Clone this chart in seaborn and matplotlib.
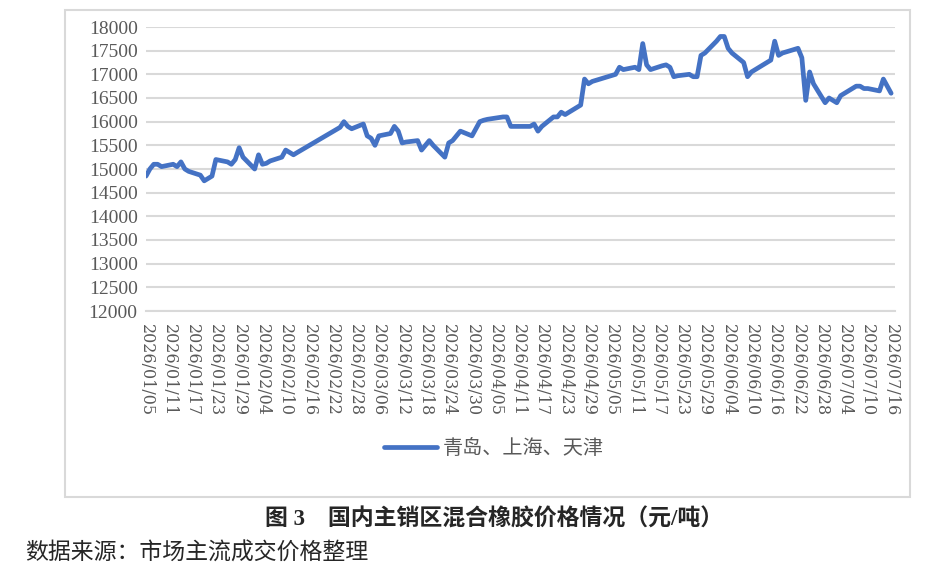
import matplotlib
matplotlib.use("Agg")
import matplotlib.pyplot as plt
from matplotlib.patches import Rectangle
import pandas as pd
import seaborn as sns

# 青岛、上海、天津 混合橡胶价格 (元/吨)
dates = [
    "01/05", "01/06", "01/07", "01/08", "01/09", "01/12", "01/13", "01/14", "01/15", "01/16",
    "01/19", "01/20", "01/21", "01/22", "01/23", "01/26", "01/27", "01/28", "01/29", "01/30",
    "02/02", "02/03", "02/04", "02/05", "02/06", "02/09", "02/10", "02/11", "02/12", "02/13",
    "02/24", "02/25", "02/26", "02/27", "03/02", "03/03", "03/04", "03/05", "03/06", "03/09",
    "03/10", "03/11", "03/12", "03/13", "03/16", "03/17", "03/18", "03/19", "03/20", "03/23",
    "03/24", "03/25", "03/26", "03/27", "03/30", "03/31", "04/01", "04/02", "04/03", "04/07",
    "04/08", "04/09", "04/10", "04/13", "04/14", "04/15", "04/16", "04/17", "04/20", "04/21",
    "04/22", "04/23", "04/24", "04/27", "04/28", "04/29", "04/30", "05/06", "05/07", "05/08",
    "05/11", "05/12", "05/13", "05/14", "05/15", "05/18", "05/19", "05/20", "05/21", "05/22",
    "05/25", "05/26", "05/27", "05/28", "05/29", "06/01", "06/02", "06/03", "06/04", "06/05",
    "06/08", "06/09", "06/10", "06/11", "06/12", "06/15", "06/16", "06/17", "06/18", "06/22",
    "06/23", "06/24", "06/25", "06/26", "06/29", "06/30", "07/01", "07/02", "07/03", "07/06",
    "07/07", "07/08", "07/09", "07/10", "07/13", "07/14", "07/16",
]
prices = [
    14850, 15000, 15100, 15100, 15050, 15100, 15050, 15150, 15000, 14950,
    14870, 14750, 14800, 14850, 15200, 15150, 15100, 15200, 15450, 15250,
    15000, 15300, 15100, 15120, 15170, 15250, 15400, 15350, 15300, 15350,
    15880, 16000, 15900, 15850, 15950, 15700, 15650, 15500, 15700, 15750,
    15900, 15800, 15550, 15570, 15600, 15400, 15500, 15600, 15500, 15250,
    15550, 15600, 15700, 15800, 15700, 15850, 16000, 16030, 16050, 16100,
    16100, 15900, 15900, 15900, 15900, 15950, 15800, 15900, 16100, 16100,
    16200, 16150, 16200, 16350, 16900, 16800, 16850, 17000, 17150, 17100,
    17150, 17100, 17650, 17200, 17100, 17180, 17200, 17150, 16950, 16970,
    17000, 16950, 16950, 17400, 17450, 17700, 17800, 17800, 17550, 17450,
    17250, 16950, 17050, 17100, 17150, 17300, 17700, 17400, 17450, 17550,
    17350, 16450, 17050, 16800, 16400, 16500, 16450, 16400, 16550, 16700,
    16750, 16750, 16700, 16700, 16650, 16900, 16600,
]
series_name = "青岛、上海、天津"
y_ticks = list(range(12000, 18001, 500))

df = pd.DataFrame({
    "date": pd.to_datetime(["2026/" + d for d in dates], format="%Y/%m/%d"),
    "price": prices,
    "series": series_name,
})

sns.set_theme(style="white")
plt.rcParams['font.family'] = ['Liberation Serif', 'Noto Sans CJK SC', 'DejaVu Sans']

fig = plt.figure(figsize=(9.36, 5.74), dpi=100)
ax = fig.add_axes([146 / 936, 1 - 311 / 574, (895 - 146) / 936, (311 - 27) / 574])

sns.lineplot(data=df, x="date", y="price", hue="series", palette=["#4472C4"],
             linewidth=3.4, ax=ax, legend=False)

start = pd.Timestamp("2026-01-05")
ax.set_xlim(start, pd.Timestamp("2026-07-17"))
ax.set_ylim(12000, 18000)
ax.set_yticks(y_ticks)
ax.yaxis.grid(True, color="#d9d9d9", linewidth=1.5)
ax.xaxis.grid(False)

xt = pd.date_range(start, pd.Timestamp("2026-07-16"), freq="6D")
ax.set_xticks(xt)
ax.set_xticklabels([d.strftime("%Y/%m/%d") for d in xt], rotation=-90,
                   fontsize=11.5, color="#595959", family="DejaVu Serif")
ax.tick_params(axis="x", direction="out", length=6, width=1.2, color="#bfbfbf", pad=3)
ax.tick_params(axis="y", length=0, labelsize=14, labelcolor="#595959", pad=6)
ax.set_xlabel("")
ax.set_ylabel("")
for s in ["top", "right", "left"]:
    ax.spines[s].set_visible(False)
ax.spines["bottom"].set_color("#d9d9d9")
ax.spines["bottom"].set_linewidth(1.5)

# outer chart border
fig.patches.append(Rectangle((65 / 936, 1 - 497 / 574), 845 / 936, 487 / 574,
                             transform=fig.transFigure, fill=False,
                             edgecolor="#d9d9d9", linewidth=1.5))

handle = plt.Line2D([], [], color="#4472C4", linewidth=3.4)
fig.legend([handle], [series_name], loc="center", bbox_to_anchor=(494 / 936, 1 - 449 / 574),
           frameon=False, handlelength=2.6, handletextpad=0.3,
           prop={"family": ["Noto Sans CJK SC"], "size": 14.5}, labelcolor="#595959")

fig.text(494 / 936, 1 - 520 / 574, "图 3　国内主销区混合橡胶价格情况（元/吨）",
         ha="center", va="center", fontsize=16.5, fontweight="bold",
         family=["Liberation Serif", "Noto Sans CJK SC"])
fig.text(25 / 936, 1 - 553 / 574, "数据来源：市场主流成交价格整理",
         ha="left", va="center", fontsize=16.5, family=["Noto Sans CJK SC"])

fig.savefig("out.png", dpi=100)
